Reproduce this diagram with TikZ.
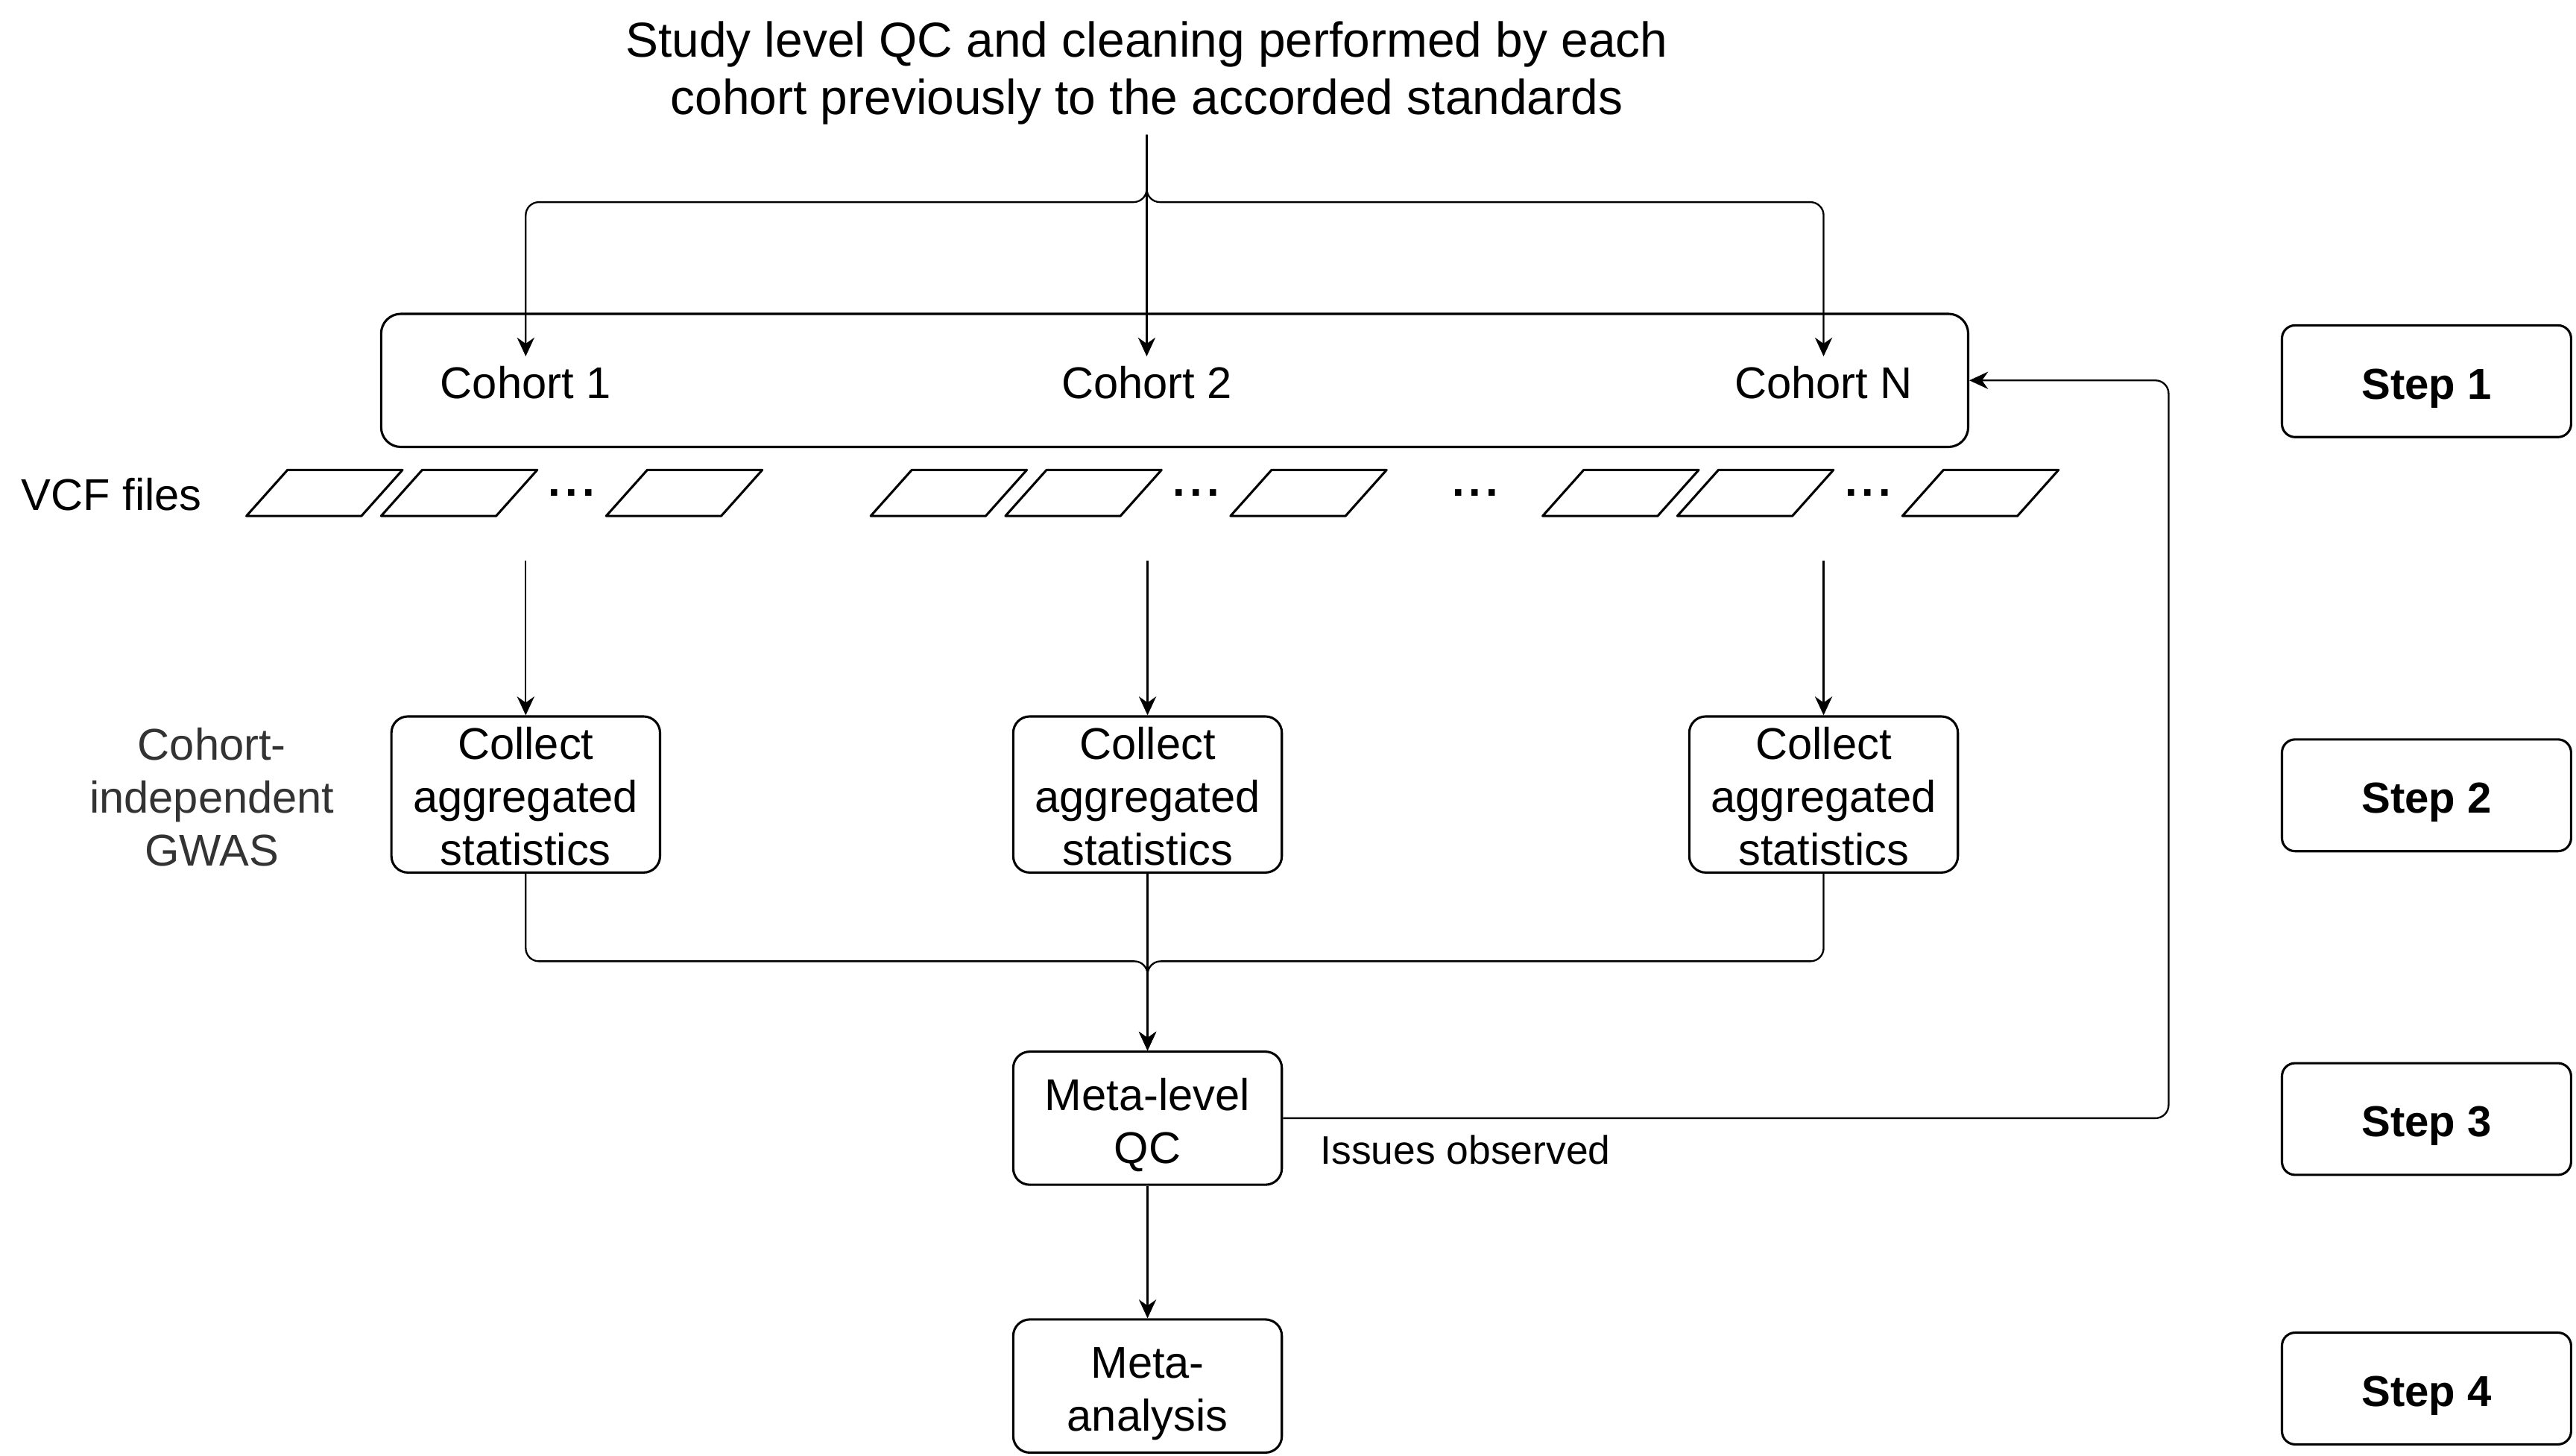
\documentclass[tikz,border=0pt]{standalone}
\usepackage{fontspec}
\setmainfont{Liberation Sans}
\usetikzlibrary{arrows.meta}
\tikzset{
  box/.style={draw, rounded corners=2mm, line width=0.8pt, align=center, inner xsep=1pt, inner ysep=0pt, minimum width=3.27cm},
  stepbox/.style={draw, rounded corners=1.6mm, line width=0.8pt, minimum width=3.52cm, minimum height=1.36cm, font=\fontsize{15}{18}\selectfont\bfseries},
  vcf/.style={line width=0.8pt},
  link/.style={->, line width=0.6pt, rounded corners=1.6mm},
}
\newcommand{\filedots}{\textbf{.\hspace{1.6pt}.\hspace{1.6pt}.}}
\newcommand{\padtop}[1]{\rule{0pt}{#1}}
\begin{document}
\begin{tikzpicture}[x=0.2mm, y=-0.2mm, >={Stealth[length=6.5pt,width=6pt]}, font=\fontsize{15.4}{18.4}\selectfont, line join=round]
  \useasboundingbox (0,0) rectangle (1568,886);
  % title and cohorts
  \node[align=center, font=\fontsize{17}{19.8}\selectfont] (title) at (698,44.5) {Study level QC and cleaning performed by each\\cohort previously to the accorded standards};
  \coordinate (top) at (698,82);
  \node[draw, rounded corners=2.4mm, line width=0.8pt, minimum width=19.32cm, minimum height=1.62cm] (cohorts) at (715,231.5) {};
  \node (c1) at (320,233) {Cohort 1};
  \node (c2) at (698,233) {Cohort 2};
  \node (cN) at (1110,233) {Cohort N};
  \draw[link] (top) -- (c2.north);
  \draw[link] (top) -- (698,123) -| (c1.north);
  \draw[link] (top) -- (698,123) -| (cN.north);
  % vcf files
  \node (vcf) at (68,301) {VCF files};
  \foreach \g in {150,530,939}{
    \foreach \dx in {0,82,219}
      \draw[vcf] (\g+\dx,314) -- ++(70,0) -- ++(25,-28) -- ++(-70,0) -- cycle;
    \node[anchor=base] (dots\g) at (\g+198,302) {\filedots};
  }
  \node[anchor=base] (dotsmid) at (898,302) {\filedots};
  % step 2
  \node[align=center, text=black!80] (gwas) at (129,485) {Cohort-\\independent\\GWAS};
  \node[box, minimum height=1.9cm] (col1) at (320,483.5) {\padtop{12.4pt}Collect\\aggregated\\statistics};
  \node[box, minimum height=1.9cm] (col2) at (698.5,483.5) {\padtop{12.4pt}Collect\\aggregated\\statistics};
  \node[box, minimum height=1.9cm] (colN) at (1110,483.5) {\padtop{12.4pt}Collect\\aggregated\\statistics};
  \coordinate (v1) at (320,341);
  \coordinate (v2) at (698.5,341);
  \coordinate (vN) at (1110,341);
  \draw[link] (v1) -- (col1.north);
  \draw[link] (v2) -- (col2.north);
  \draw[link] (vN) -- (colN.north);
  % meta level
  \node[box, minimum height=1.62cm] (qc) at (698.5,680.5) {\padtop{15.8pt}Meta-level\\QC};
  \node[box, minimum height=1.62cm] (meta) at (698.5,843.5) {\padtop{16pt}Meta-\\analysis};
  \draw[link] (col2.south) -- (qc.north);
  \draw[link] (col1.south) |- (698.5,585) -- (qc.north);
  \draw[link] (colN.south) |- (698.5,585) -- (qc.north);
  \draw[link] (qc.south) -- (meta.north);
  \draw[link] (qc.east) -- (1320,680.5) |- (cohorts.east);
  \node[font=\fontsize{13.8}{16.5}\selectfont] (issues) at (892,700) {Issues observed};
  % steps
  \node[stepbox] (s1) at (1477,232) {\padtop{15.5pt}Step 1};
  \node[stepbox] (s2) at (1477,484) {\padtop{15.5pt}Step 2};
  \node[stepbox] (s3) at (1477,681) {\padtop{15.5pt}Step 3};
  \node[stepbox] (s4) at (1477,845) {\padtop{15.5pt}Step 4};
\end{tikzpicture}
\end{document}
